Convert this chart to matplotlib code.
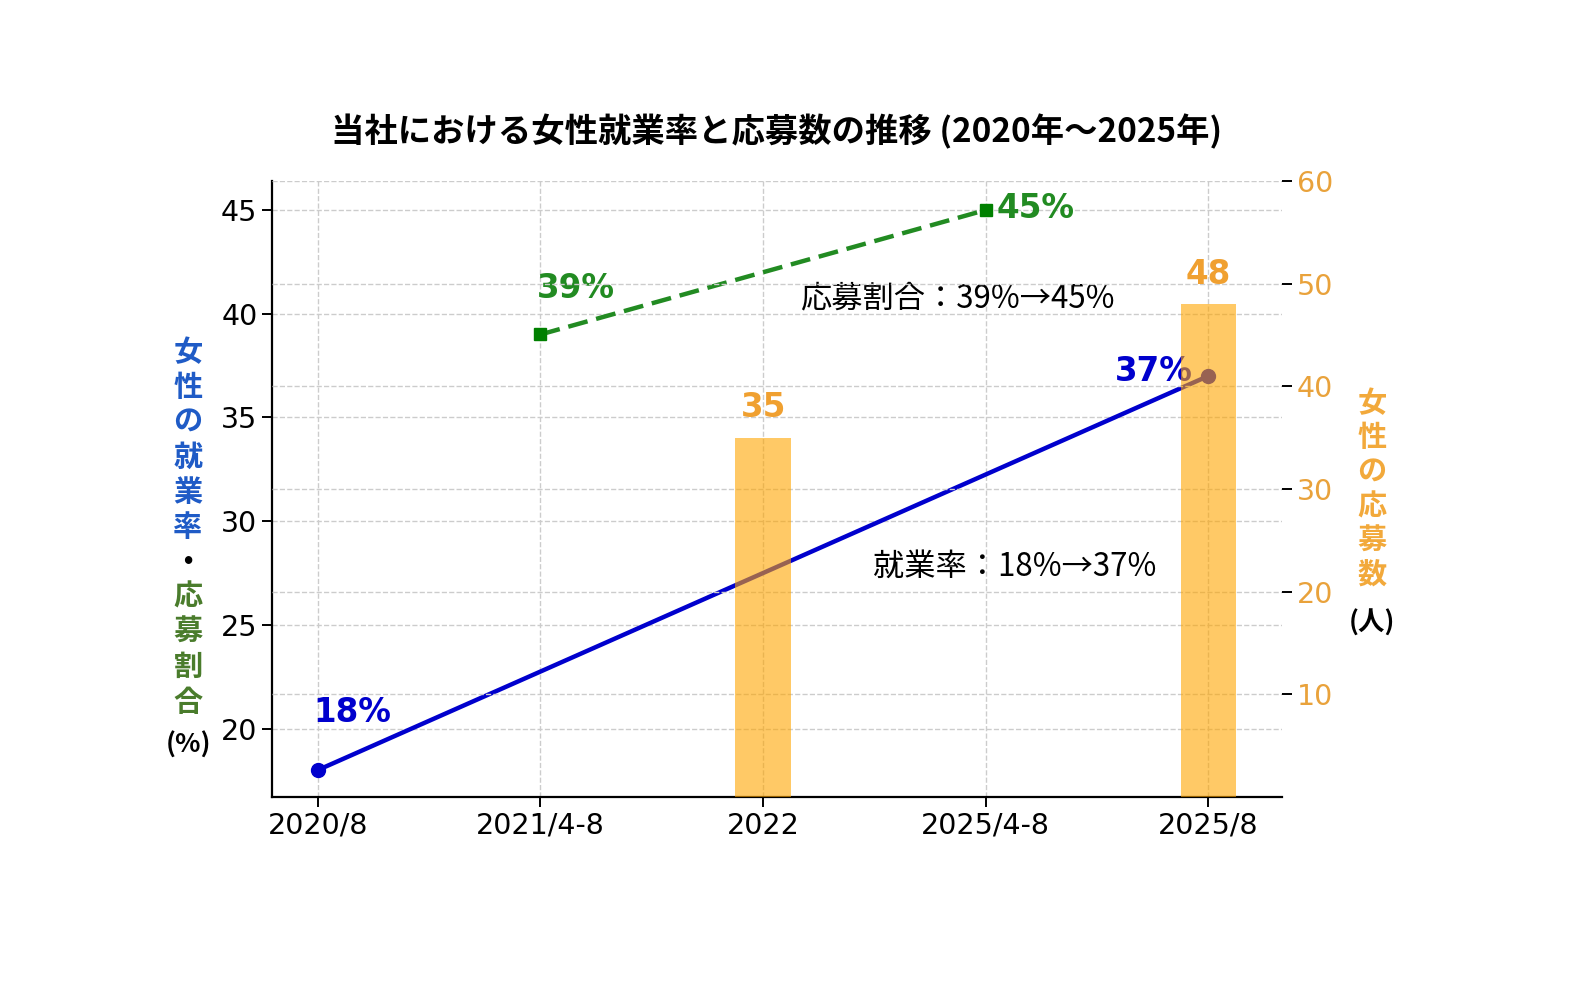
import matplotlib.pyplot as plt
import numpy as np

plt.rcParams['font.family'] = ['DejaVu Sans', 'Noto Sans CJK JP']

# data
periods = ['2020/8', '2021/4-8', '2022', '2025/4-8', '2025/8']
employ_x = [0, 4]
employ_rate = [18, 37]
apply_x = [1, 3]
apply_ratio = [39, 45]
bar_x = [2, 4]
applicants = [35, 48]

cjk = ['Noto Sans CJK JP', 'DejaVu Sans']

fig = plt.figure(figsize=(15.83, 9.89), dpi=100)
ax = fig.add_axes([0.1718, 0.1941, 0.6381, 0.6229])

ax.plot(employ_x, employ_rate, color='#0000CD', lw=3.2, marker='o', markersize=10, zorder=3)
ax.plot(apply_x, apply_ratio, color='forestgreen', lw=3.2, ls='--', dashes=(4.5, 2),
        marker='s', markersize=9, markerfacecolor='green', markeredgecolor='green', zorder=3)

ax.set_xlim(-0.206, 4.331)
ax.set_ylim(16.7, 46.4)
ax.set_yticks([20, 25, 30, 35, 40, 45])
ax.set_xticks(range(len(periods)))
ax.set_xticklabels(periods)
ax.tick_params(axis='both', labelsize=20.5, length=7, width=1.4)
ax.grid(True, ls='--', color='#cccccc', lw=1)
for s in ['top', 'right']:
    ax.spines[s].set_visible(False)
for s in ['left', 'bottom']:
    ax.spines[s].set_linewidth(1.6)

# labels on lines
ax.text(-0.02, 20.0, f'{employ_rate[0]}%', color='#0000CD', fontsize=23.5, fontweight='bold',
        ha='left', va='bottom')
ax.text(3.93, 37.2, f'{employ_rate[1]}%', color='#0000CD', fontsize=23.5, fontweight='bold',
        ha='right', va='center')
ax.text(0.985, 40.4, f'{apply_ratio[0]}%', color='forestgreen', fontsize=23.5, fontweight='bold',
        ha='left', va='bottom')
ax.text(3.05, 45.05, f'{apply_ratio[1]}%', color='forestgreen', fontsize=23.5, fontweight='bold',
        ha='left', va='center')

ax.text(2.166, 40.76, '応募割合：39%→45%', fontsize=22.5, family=cjk, ha='left', va='center')
ax.text(2.494, 27.8, '就業率：18%→37%', fontsize=22.5, family=cjk, ha='left', va='center')

# bars on the right axis
ax2 = ax.twinx()
ax2.bar(bar_x, applicants, width=0.25, color='orange', alpha=0.6, zorder=2)
for x, v in zip(bar_x, applicants):
    ax2.text(x, v + 1.3, str(v), color='#F0A030', fontsize=23.5, fontweight='bold',
             ha='center', va='bottom')
ax2.set_ylim(0, 60)
ax2.set_yticks([10, 20, 30, 40, 50, 60])
ax2.tick_params(axis='y', labelsize=20.5, labelcolor='#E9A23B', length=7, width=1.4)
ax2.grid(True, axis='y', ls='--', color='#cccccc', lw=1)
for s in ax2.spines.values():
    s.set_visible(False)

ax.set_title('当社における女性就業率と応募数の推移 (2020年〜2025年)', fontsize=24,
             fontweight='bold', family=cjk, pad=28)

# vertical axis labels
left_chars = [('女', '#1f5bc6'), ('性', '#1f5bc6'), ('の', '#1f5bc6'), ('就', '#1f5bc6'),
              ('業', '#1f5bc6'), ('率', '#1f5bc6'), ('・', 'black'), ('応', '#4a7c2c'),
              ('募', '#4a7c2c'), ('割', '#4a7c2c'), ('合', '#4a7c2c')]
for i, (ch, c) in enumerate(left_chars):
    fig.text(188 / 1583, 1 - (352 + 35 * i) / 989, ch, color=c, fontsize=21,
             fontweight='bold', family=cjk, ha='center', va='center')
fig.text(188 / 1583, 1 - 745 / 989, '(%)', fontsize=19, fontweight='bold', family=cjk,
         ha='center', va='center')

right_chars = ['女', '性', 'の', '応', '募', '数']
for i, ch in enumerate(right_chars):
    fig.text(1372 / 1583, 1 - (403 + 34.4 * i) / 989, ch, color='#F2A93B', fontsize=21,
             fontweight='bold', family=cjk, ha='center', va='center')
fig.text(1372 / 1583, 1 - 623 / 989, '(人)', fontsize=19, fontweight='bold', family=cjk,
         ha='center', va='center')

fig.savefig('out.png', dpi=100)
